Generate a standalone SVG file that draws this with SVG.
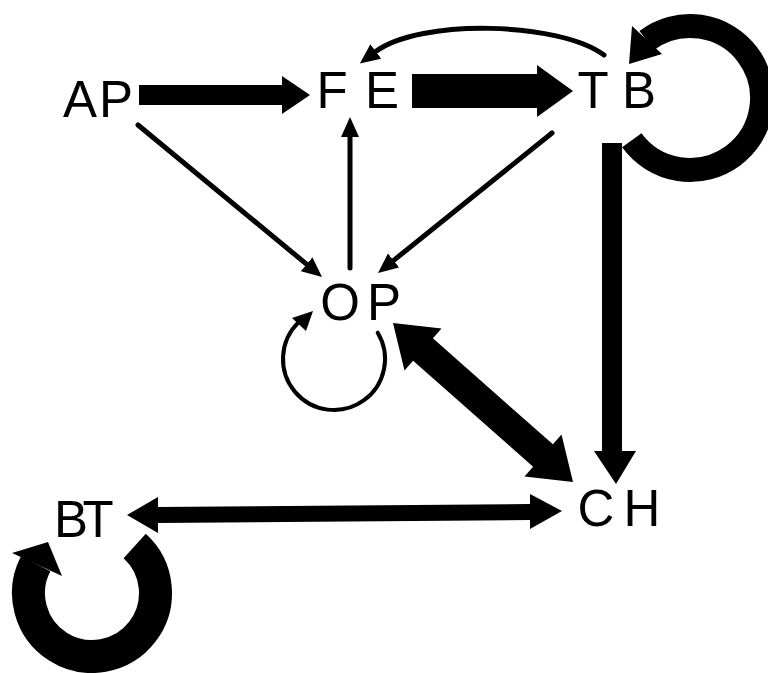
<svg xmlns="http://www.w3.org/2000/svg" width="768" height="673" viewBox="0 0 768 673">
  <style>
    .label { font-family: "Liberation Sans", "DejaVu Sans", sans-serif; font-size: 51px; fill: #000; text-anchor: middle; }
    .thin { fill: none; stroke: #000; stroke-width: 5; stroke-linecap: round; }
    .hair { fill: none; stroke: #000; stroke-width: 4; stroke-linecap: round; }
    .heavy { fill: #000; stroke: none; }
    .ring { fill: none; stroke: #000; stroke-linecap: butt; }
  </style>
  <defs>
    <marker id="head" markerUnits="userSpaceOnUse" viewBox="0 0 20 18" markerWidth="20" markerHeight="18" refX="1" refY="9" orient="auto">
      <path d="M0,0 L20,9 L0,18 Z" fill="#000"/>
    </marker>
  </defs>

  <rect width="768" height="673" fill="#fff"/>

  <g id="connectors">
    <!-- AP -> FE (heavy) -->
    <path class="heavy" d="M139,85 H282 V76 L310,95 L282,114 V105 H139 Z"/>
    <!-- FE -> TB (heaviest) -->
    <path class="heavy" d="M412,74 H537 V65 L573,91 L537,117 V108 H412 Z"/>
    <!-- TB -> FE (curved, thin) -->
    <path class="thin" d="M604,55 C560,22 420,18 375,52" marker-end="url(#head)"/>
    <!-- TB -> CH (heavy vertical) -->
    <path class="heavy" d="M602,143 H622 V451 H636 L616,484 L594,451 H602 Z"/>
    <!-- TB self-loop -->
    <path class="ring" stroke-width="24" d="M631.8,140.3 A72,72 0 1 0 646.7,40.5"/>
    <path class="heavy" d="M632,26 L662,54 L629,64 Z"/>
    <!-- AP -> OP -->
    <line class="thin" x1="138" y1="125" x2="307.4" y2="264.9" marker-end="url(#head)"/>
    <!-- OP -> FE -->
    <line class="thin" x1="350" y1="268" x2="350" y2="136" marker-end="url(#head)"/>
    <!-- TB -> OP -->
    <line class="thin" x1="552" y1="133" x2="392.8" y2="261.1" marker-end="url(#head)"/>
    <!-- OP self-loop -->
    <path class="hair" d="M377.7,332.7 A51,51 0 1 1 298.2,322.7"/>
    <path class="heavy" d="M313,311 L292,318 L306,331 Z"/>
    <!-- OP <-> CH (heavy, both ends) -->
    <path class="heavy" d="M393,323 L441.5,328.5 L432.9,338.3 L552.9,444.3 L561.5,434.5 L573,482 L524.5,476.5 L533.1,466.7 L413.1,360.7 L404.5,370.5 Z"/>
    <!-- BT <-> CH -->
    <path class="heavy" d="M127,515 L158,497 L158,507 L530,504 L530,494 L562,511 L530,529 L530,520 L158,523 L158,533 Z"/>
    <!-- BT self-loop -->
    <path class="ring" stroke-width="33" d="M134.7,546 A63.5,63.5 0 1 1 35.7,563.6"/>
    <path class="heavy" d="M12,553 L48,542 L62,576 Z"/>
  </g>

  <g id="AP"><text class="label" x="80 116" y="117">AP</text></g>
  <g id="FE"><text class="label" x="332 382" y="108">FE</text></g>
  <g id="TB"><text class="label" x="593 639" y="108">TB</text></g>
  <g id="OP"><text class="label" x="340 384" y="320">OP</text></g>
  <g id="CH"><text class="label" x="596 642" y="526">CH</text></g>
  <g id="BT"><text class="label" x="71 98" y="537">BT</text></g>
</svg>
